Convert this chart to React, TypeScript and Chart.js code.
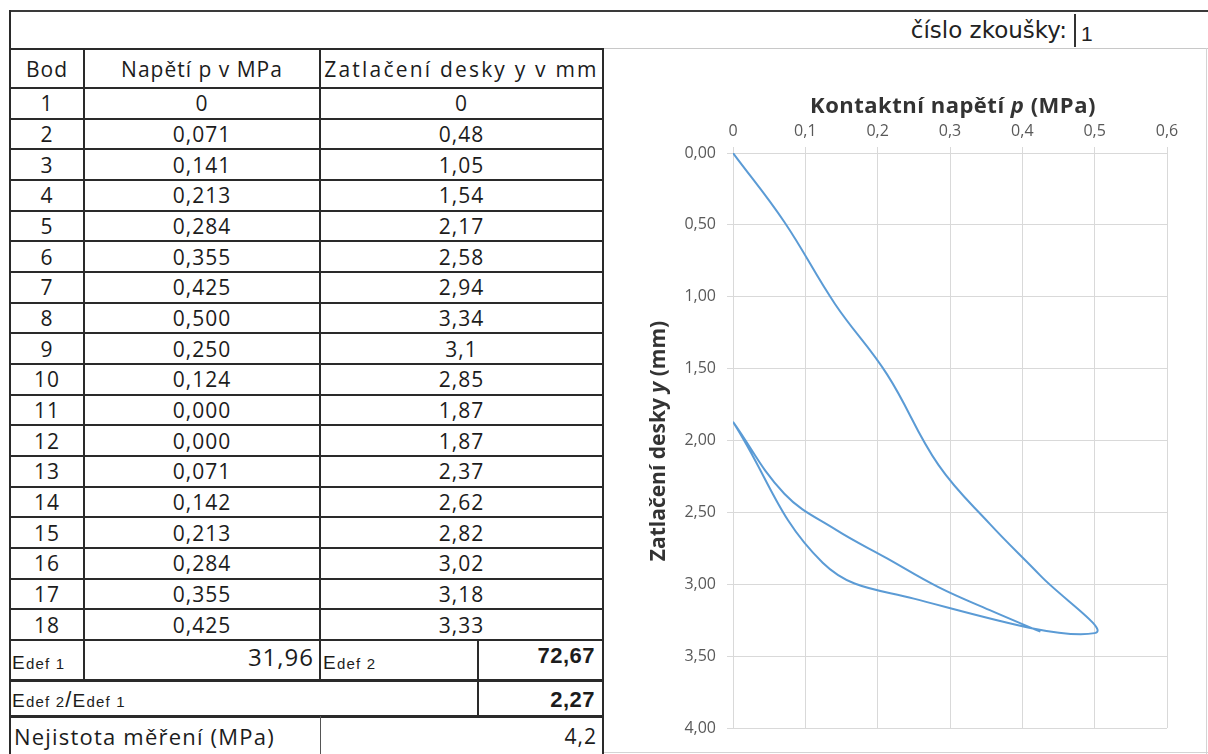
import React, { useEffect, useRef } from "react";
import { Chart, registerables } from "chart.js";

Chart.register(...registerables);

// ---- data ----
const bodNumbers = ["1", "2", "3", "4", "5", "6", "7", "8", "9", "10", "11", "12", "13", "14", "15", "16", "17", "18"];
const pText = ["0", "0,071", "0,141", "0,213", "0,284", "0,355", "0,425", "0,500", "0,250", "0,124", "0,000", "0,000", "0,071", "0,142", "0,213", "0,284", "0,355", "0,425"];
const yText = ["0", "0,48", "1,05", "1,54", "2,17", "2,58", "2,94", "3,34", "3,1", "2,85", "1,87", "1,87", "2,37", "2,62", "2,82", "3,02", "3,18", "3,33"];
const headers = ["Bod", "Napětí p v MPa", "Zatlačení desky y v mm"];
const edef1Text = "31,96";
const edef2Text = "72,67";
const ratioText = "2,27";
const uncertaintyText = "4,2";
const testNumber = "1";
const xTickMin = 0;
const xTickMax = 0.6;
const xTickStep = 0.1;
const yTickMin = 0;
const yTickMax = 4;
const yTickStep = 0.5;

const toNum = (s: string) => parseFloat(s.replace(",", "."));

const TABLE_FONT = "'Open Sans', sans-serif";
const ARIAL = "'Liberation Sans', Arial, sans-serif";

function Cell(props: { x: number; y: number; w: number; h: number; children?: any; style?: any }) {
  const { x, y, w, h, children, style } = props;
  return (
    <div
      style={{
        position: "absolute",
        left: x,
        top: y,
        width: w,
        height: h,
        display: "flex",
        alignItems: "center",
        justifyContent: "center",
        fontFamily: TABLE_FONT,
        fontSize: 21,
        letterSpacing: 1,
        color: "#1c1c1c",
        boxSizing: "border-box",
        whiteSpace: "nowrap",
        ...style,
      }}
    >
      {children}
    </div>
  );
}

function HLine(props: { x1: number; x2: number; y: number; t?: number; c?: string }) {
  const t = props.t ?? 2;
  return (
    <div
      style={{
        position: "absolute",
        left: props.x1,
        top: props.y - t / 2,
        width: props.x2 - props.x1,
        height: t,
        background: props.c ?? "#2a2a2a",
      }}
    />
  );
}

function VLine(props: { x: number; y1: number; y2: number; t?: number; c?: string }) {
  const t = props.t ?? 2;
  return (
    <div
      style={{
        position: "absolute",
        left: props.x - t / 2,
        top: props.y1,
        width: t,
        height: props.y2 - props.y1,
        background: props.c ?? "#2a2a2a",
      }}
    />
  );
}

function EdefLabel(props: { n: string }) {
  return (
    <>
      <span style={{ fontSize: 19 }}>E</span>
      <span style={{ fontSize: 15 }}>def {props.n}</span>
    </>
  );
}

export default function App() {
  const canvasRef = useRef<HTMLCanvasElement | null>(null);

  useEffect(() => {
    if (!canvasRef.current) return;
    const points = pText.map((p, i) => ({ x: toNum(p), y: toNum(yText[i]) }));
    const chart = new Chart(canvasRef.current, {
      type: "scatter",
      data: {
        datasets: [
          {
            data: points,
            showLine: true,
            borderColor: "#5b9bd5",
            backgroundColor: "#5b9bd5",
            borderWidth: 2,
            pointRadius: 0,
            tension: 0.4,
          },
        ],
      },
      options: {
        responsive: false,
        animation: false,
        layout: { padding: { left: 0, top: 0, right: 39, bottom: 24 } },
        plugins: { legend: { display: false }, tooltip: { enabled: false } },
        scales: {
          x: {
            type: "linear",
            position: "top",
            min: xTickMin,
            max: xTickMax,
            afterFit: (scale: any) => {
              scale.height = 96;
            },
            ticks: {
              stepSize: xTickStep,
              padding: 6,
              color: "#595959",
              font: { family: "'Open Sans', sans-serif", size: 16 },
              callback: (v: any) => (Number(v) === 0 ? "0" : Number(v).toFixed(1).replace(".", ",")),
            },
            grid: { color: "#d9d9d9", tickLength: 6, drawTicks: true },
            border: { display: true, color: "#d9d9d9" },
          },
          y: {
            type: "linear",
            reverse: true,
            min: yTickMin,
            max: yTickMax,
            afterFit: (scale: any) => {
              scale.width = 127;
            },
            ticks: {
              stepSize: yTickStep,
              padding: 11,
              color: "#595959",
              font: { family: "'Open Sans', sans-serif", size: 16 },
              callback: (v: any) => Number(v).toFixed(2).replace(".", ","),
            },
            grid: { color: "#d9d9d9", tickLength: 6, drawTicks: true },
            border: { display: true, color: "#d9d9d9" },
          },
        },
      },
    });
    return () => chart.destroy();
  }, []);

  const colX = [10, 84, 320, 478, 603];
  const headerTop = 49;
  const headerBottom = 88;
  const rowsBottom = 640;
  const rowH = (rowsBottom - headerBottom) / bodNumbers.length;
  const edefBottom = 680;
  const ratioBottom = 716;
  const nejBottom = 756;

  const hLines: any[] = [];
  hLines.push(<HLine key="h-head" x1={10} x2={604} y={headerTop} />);
  for (let i = 0; i <= bodNumbers.length; i++) {
    hLines.push(<HLine key={"h" + i} x1={10} x2={604} y={headerBottom + i * rowH} />);
  }
  hLines.push(<HLine key="h-edef" x1={10} x2={604} y={edefBottom} t={3} />);
  hLines.push(<HLine key="h-ratio" x1={10} x2={604} y={ratioBottom} t={3} />);

  return (
    <div
      style={{
        position: "absolute",
        left: 0,
        top: 0,
        width: 1208,
        height: 754,
        overflow: "hidden",
        background: "#ffffff",
      }}
    >
      {/* outer frame */}
      <HLine x1={9} x2={1208} y={11} c="#3a3a3a" />
      <VLine x={10} y1={10} y2={754} />
      <HLine x1={10} x2={1208} y={48} t={1} c="#c8c8c8" />
      <VLine x={1206} y1={48} y2={754} t={1} c="#d4d4d4" />
      <HLine x1={604} x2={1208} y={752} t={1} c="#d4d4d4" />

      {/* test number */}
      <div
        style={{
          position: "absolute",
          right: 1208 - 1067,
          top: 15,
          fontFamily: "'DejaVu Sans', sans-serif",
          fontSize: 23,
          color: "#222",
          whiteSpace: "nowrap",
          lineHeight: "30px",
        }}
      >
        číslo zkoušky:
      </div>
      <VLine x={1075} y1={14} y2={47} c="#333" />
      <div
        style={{
          position: "absolute",
          left: 1081,
          top: 21,
          fontFamily: ARIAL,
          fontSize: 21,
          color: "#222",
          lineHeight: "26px",
        }}
      >
        {testNumber}
      </div>

      {/* table lines */}
      {hLines}
      <VLine x={colX[1]} y1={headerTop} y2={edefBottom} />
      <VLine x={colX[2]} y1={headerTop} y2={edefBottom} />
      <VLine x={colX[3]} y1={rowsBottom} y2={ratioBottom} />
      <VLine x={colX[2]} y1={ratioBottom} y2={754} t={1} c="#555" />
      <VLine x={603} y1={headerTop} y2={754} />

      {/* header */}
      {headers.map((h, i) => (
        <Cell
          key={"hd" + i}
          x={colX[i]}
          y={headerTop}
          w={(i === 2 ? colX[4] : colX[i + 1]) - colX[i]}
          h={headerBottom - headerTop}
          style={i === 2 ? { letterSpacing: 2.2 } : undefined}
        >
          {h}
        </Cell>
      ))}

      {/* data rows */}
      {bodNumbers.map((b, i) => {
        const top = headerBottom + i * rowH;
        return (
          <React.Fragment key={"r" + i}>
            <Cell x={colX[0]} y={top} w={colX[1] - colX[0]} h={rowH}>
              {b}
            </Cell>
            <Cell x={colX[1]} y={top} w={colX[2] - colX[1]} h={rowH}>
              {pText[i]}
            </Cell>
            <Cell x={colX[2]} y={top} w={colX[4] - colX[2]} h={rowH}>
              {yText[i]}
            </Cell>
          </React.Fragment>
        );
      })}

      {/* Edef row */}
      <Cell
        x={colX[0] + 2}
        y={rowsBottom}
        w={colX[1] - colX[0]}
        h={edefBottom - rowsBottom}
        style={{ justifyContent: "flex-start", alignItems: "flex-end", paddingBottom: 6, fontFamily: ARIAL, letterSpacing: 1.2 }}
      >
        <span>
          <EdefLabel n="1" />
        </span>
      </Cell>
      <Cell
        x={colX[1]}
        y={rowsBottom}
        w={colX[2] - colX[1]}
        h={edefBottom - rowsBottom}
        style={{ justifyContent: "flex-end", paddingRight: 6, fontSize: 24, paddingBottom: 8 }}
      >
        {edef1Text}
      </Cell>
      <Cell
        x={colX[2] + 3}
        y={rowsBottom}
        w={colX[3] - colX[2]}
        h={edefBottom - rowsBottom}
        style={{ justifyContent: "flex-start", alignItems: "flex-end", paddingBottom: 6, fontFamily: ARIAL, letterSpacing: 1.2 }}
      >
        <span>
          <EdefLabel n="2" />
        </span>
      </Cell>
      <Cell
        x={colX[3]}
        y={rowsBottom}
        w={colX[4] - colX[3]}
        h={edefBottom - rowsBottom}
        style={{ justifyContent: "flex-end", paddingRight: 8, fontFamily: ARIAL, fontWeight: 700, fontSize: 22, letterSpacing: 0.5, paddingBottom: 8 }}
      >
        {edef2Text}
      </Cell>

      {/* ratio row */}
      <Cell
        x={colX[0] + 2}
        y={edefBottom}
        w={colX[3] - colX[0]}
        h={ratioBottom - edefBottom}
        style={{ justifyContent: "flex-start", alignItems: "flex-end", paddingBottom: 3, fontFamily: ARIAL, letterSpacing: 1.2 }}
      >
        <span>
          <EdefLabel n="2" />
          <span style={{ fontSize: 22 }}>/</span>
          <EdefLabel n="1" />
        </span>
      </Cell>
      <Cell
        x={colX[3]}
        y={edefBottom}
        w={colX[4] - colX[3]}
        h={ratioBottom - edefBottom}
        style={{ justifyContent: "flex-end", paddingRight: 8, paddingTop: 3, fontFamily: ARIAL, fontWeight: 700, fontSize: 22, letterSpacing: 0.5 }}
      >
        {ratioText}
      </Cell>

      {/* uncertainty row */}
      <Cell
        x={colX[0] + 2}
        y={ratioBottom}
        w={colX[2] - colX[0]}
        h={nejBottom - ratioBottom}
        style={{ justifyContent: "flex-start", paddingLeft: 2, fontSize: 22, letterSpacing: 1.2 }}
      >
        Nejistota měření (MPa)
      </Cell>
      <Cell
        x={colX[2]}
        y={ratioBottom}
        w={colX[4] - colX[2]}
        h={nejBottom - ratioBottom}
        style={{ justifyContent: "flex-end", paddingRight: 6 }}
      >
        {uncertaintyText}
      </Cell>

      {/* chart */}
      <canvas
        ref={canvasRef}
        width={600}
        height={695}
        style={{ position: "absolute", left: 606, top: 57, width: 600, height: 695 }}
      />
      <div
        style={{
          position: "absolute",
          left: 953 - 200,
          width: 400,
          top: 90,
          textAlign: "center",
          fontFamily: "'Open Sans', sans-serif",
          fontWeight: 700,
          fontSize: 22,
          letterSpacing: 0.5,
          lineHeight: "28px",
          color: "#333",
        }}
      >
        Kontaktní napětí <i>p</i> (MPa)
      </div>
      <div
        style={{
          position: "absolute",
          left: 657 - 200,
          top: 441 - 14,
          width: 400,
          textAlign: "center",
          fontFamily: "'Open Sans', sans-serif",
          fontWeight: 700,
          fontSize: 21,
          lineHeight: "28px",
          color: "#333",
          transform: "rotate(-90deg)",
          transformOrigin: "50% 50%",
        }}
      >
        Zatlačení desky <i>y</i> (mm)
      </div>
    </div>
  );
}
